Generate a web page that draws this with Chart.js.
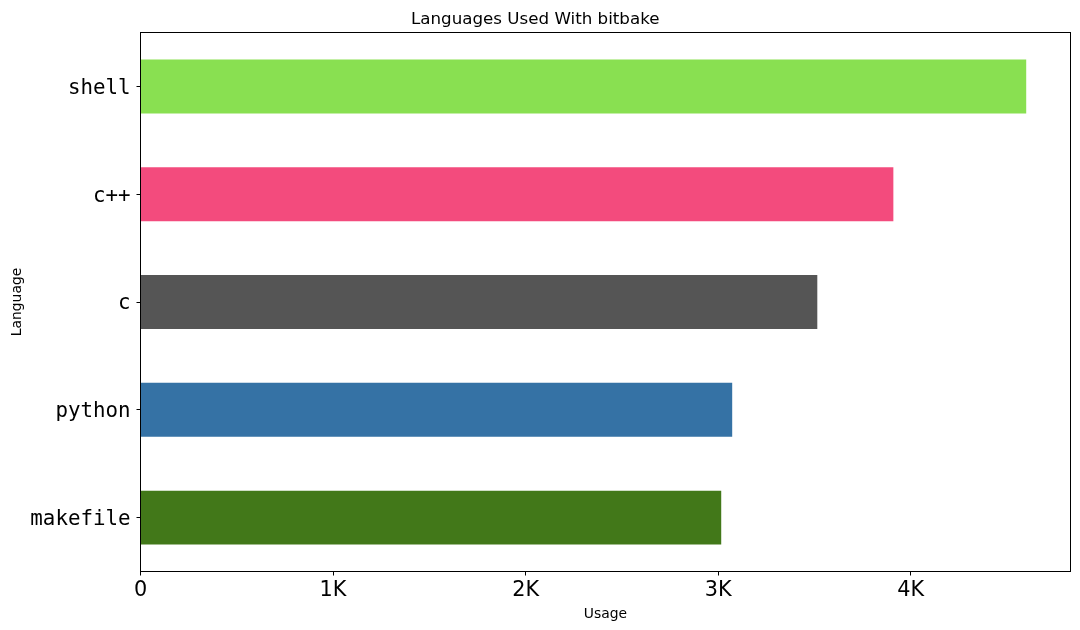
<!DOCTYPE html>
<html lang="en">
<head>
    <meta charset="UTF-8">
    <title>Languages Used With bitbake</title>
    <script src="https://cdn.jsdelivr.net/npm/chart.js"></script>
    <style>
        body {
            margin: 0;
            padding: 0;
            background-color: #fff;
        }
        #chart {
            display: block;
        }
    </style>
</head>
<body>
    <canvas id="chart" width="1080" height="630"></canvas>
    <script>
        // languages, top to bottom as drawn
        const languages = ['shell', 'c++', 'c', 'python', 'makefile'];
        const usage = [4600, 3910, 3515, 3073, 3016];
        const barColors = ['#89e051', '#f34b7d', '#555555', '#3572a5', '#427819'];
        const usageTicks = [0, 1000, 2000, 3000, 4000];
        const usageMax = 4830;

        // matplotlib draws a full box around the plot
        const frame = {
            id: 'frame',
            afterDraw(chart) {
                const a = chart.chartArea;
                const ctx = chart.ctx;
                const l = Math.floor(a.left), t = Math.floor(a.top);
                const r = Math.floor(a.right), b = Math.floor(a.bottom);
                ctx.save();
                ctx.strokeStyle = '#000';
                ctx.lineWidth = 1;
                ctx.strokeRect(l + 0.5, t + 0.5, r - l, b - t);
                ctx.restore();
            }
        };

        const ctx = document.getElementById('chart').getContext('2d');
        new Chart(ctx, {
            type: 'bar',
            data: {
                labels: languages,
                datasets: [{
                    data: usage,
                    backgroundColor: barColors,
                    borderWidth: 0,
                    barPercentage: 0.5,
                    categoryPercentage: 1.0
                }]
            },
            options: {
                indexAxis: 'y',
                responsive: false,
                animation: false,
                layout: {
                    padding: { left: 0, right: 9.5, top: 0, bottom: 0 }
                },
                plugins: {
                    legend: { display: false },
                    tooltip: { enabled: false },
                    title: {
                        display: true,
                        text: 'Languages Used With bitbake',
                        color: '#000',
                        font: { family: 'DejaVu Sans', size: 16.7, weight: 'normal' },
                        padding: { top: 10, bottom: 2.5 }
                    }
                },
                scales: {
                    x: {
                        min: 0,
                        max: usageMax,
                        afterFit(scale) { scale.height = 58.5; },
                        // fixed tick list, chart.js would otherwise split 0..max evenly
                        afterBuildTicks(scale) {
                            scale.ticks = usageTicks.map(v => ({ value: v }));
                        },
                        ticks: {
                            color: '#000',
                            padding: 3,
                            maxRotation: 0,
                            autoSkip: false,
                            font: { family: 'DejaVu Sans', size: 20.8 },
                            callback: (v) => v === 0 ? '0' : (v / 1000) + 'K'
                        },
                        grid: {
                            drawOnChartArea: false,
                            drawTicks: true,
                            tickLength: 4,
                            color: '#000'
                        },
                        border: { display: false },
                        title: {
                            display: true,
                            text: 'Usage',
                            color: '#000',
                            font: { family: 'DejaVu Sans', size: 13.9 },
                            padding: { top: 0, bottom: 7 }
                        }
                    },
                    y: {
                        afterFit(scale) { scale.width = 140.5; },
                        ticks: {
                            color: '#000',
                            padding: 6,
                            labelOffset: 2,
                            font: { family: 'DejaVu Sans Mono', size: 20.8 }
                        },
                        grid: {
                            offset: false,
                            drawOnChartArea: false,
                            drawTicks: true,
                            tickLength: 4,
                            color: '#000'
                        },
                        border: { display: false },
                        title: {
                            display: true,
                            text: 'Language',
                            color: '#000',
                            font: { family: 'DejaVu Sans', size: 13.9 },
                            padding: { top: 9, bottom: 0 }
                        }
                    }
                }
            },
            plugins: [frame]
        });
    </script>
</body>
</html>
